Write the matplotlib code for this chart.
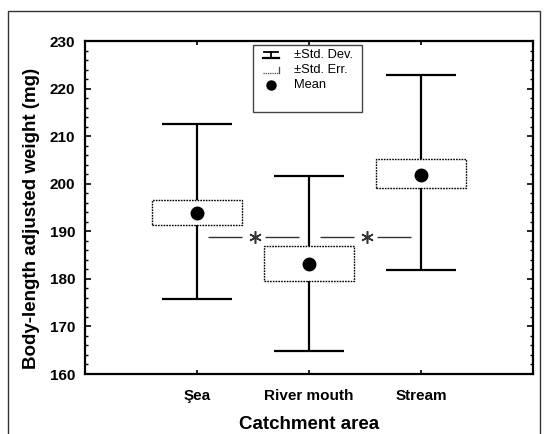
import matplotlib
matplotlib.use("Agg")
import matplotlib.pyplot as plt
from matplotlib.patches import Rectangle
from matplotlib.lines import Line2D
from matplotlib.ticker import MultipleLocator
import numpy as np

plt.rcParams['font.family'] = ['Liberation Sans', 'DejaVu Sans']

categories = ["Şea", "River mouth", "Stream"]
means = [193.8, 183.1, 201.8]
se_low = [191.3, 179.6, 199.0]
se_high = [196.6, 186.9, 205.1]
sd_low = [175.7, 164.9, 181.9]
sd_high = [212.5, 201.6, 222.9]

# significance markers between neighbouring groups
sig_y = 188.7
sig_pairs = [(1, 2), (2, 3)]

fig = plt.figure(figsize=(5.45, 4.34), dpi=100)
ax = fig.add_axes([85 / 545, 1 - 374 / 434, 448 / 545, 333 / 434])

x = np.arange(1, len(categories) + 1)
means = np.array(means); se_low = np.array(se_low); se_high = np.array(se_high)
sd_low = np.array(sd_low); sd_high = np.array(sd_high)

# SE boxes
ax.bar(x, se_high - se_low, bottom=se_low, width=0.8, fill=False,
       edgecolor='black', linewidth=1.0, linestyle=(0, (1.2, 0.8)), zorder=2)
# SD whiskers
ax.vlines(x, se_high, sd_high, color='black', linewidth=1.6, zorder=2)
ax.vlines(x, sd_low, se_low, color='black', linewidth=1.6, zorder=2)
ax.hlines(sd_high, x - 0.31, x + 0.31, color='black', linewidth=1.6, zorder=2)
ax.hlines(sd_low, x - 0.31, x + 0.31, color='black', linewidth=1.6, zorder=2)
# means
ax.plot(x, means, 'o', color='black', markersize=9, zorder=3)

# significance lines with asterisks
for a, b in sig_pairs:
    ax.hlines([sig_y, sig_y], [a + 0.10, a + 0.61], [a + 0.40, a + 0.91],
              color='#333333', linewidth=1.0)
    ax.plot([a + 0.515], [sig_y], marker=(6, 2, 0), color='#333333',
            markersize=9, markeredgewidth=1.1, linestyle='none')

ax.set_xlim(0, 4)
ax.set_ylim(160, 230)
ax.set_xticks(x)
ax.set_xticklabels(categories)
ax.yaxis.set_major_locator(MultipleLocator(10))
ax.yaxis.set_minor_locator(MultipleLocator(2))

ax.tick_params(axis='both', which='both', direction='in', top=True, right=True)
ax.tick_params(axis='x', which='major', length=3, width=1.2, pad=11,
               labelsize=11)
ax.tick_params(axis='y', which='major', length=4, width=1.2, pad=7,
               labelsize=11)
ax.tick_params(axis='y', which='minor', length=2.5, width=1.0)
for lab in ax.get_xticklabels() + ax.get_yticklabels():
    lab.set_fontweight('bold')

for s in ax.spines.values():
    s.set_linewidth(1.6)

ax.set_xlabel("Catchment area", fontsize=13.5, fontweight='bold')
ax.set_ylabel("Body-length adjusted weight (mg)", fontsize=13.5,
              fontweight='bold')
ax.xaxis.set_label_coords(0.5, -0.127)
ax.yaxis.set_label_coords(-0.10, 0.468)

# legend (drawn in axes coordinates)
tr = ax.transAxes
ax.add_patch(Rectangle((0.375, 0.787), 0.243, 0.201, transform=tr,
                       fill=True, facecolor='white', edgecolor='#444444',
                       linewidth=1.0, zorder=5))
rows = [0.958, 0.913, 0.868]
ix0, ix1 = 0.397, 0.432
h = 0.010
# SD icon
ax.add_line(Line2D([ix0 + 0.002, ix1 - 0.002], [rows[0] + h] * 2,
                   transform=tr, color='black', lw=1.3, zorder=6))
ax.add_line(Line2D([ix0, ix1], [rows[0] - h] * 2,
                   transform=tr, color='black', lw=1.6, zorder=6))
ax.add_line(Line2D([(ix0 + ix1) / 2] * 2, [rows[0] - h, rows[0] + h],
                   transform=tr, color='black', lw=1.3, zorder=6))
# SE icon
ax.add_line(Line2D([ix0, ix1], [rows[1] - h] * 2,
                   transform=tr, color='#444444', lw=0.9,
                   linestyle=(0, (1, 0.8)), zorder=6))
ax.add_line(Line2D([ix1, ix1], [rows[1] - h, rows[1] + h],
                   transform=tr, color='#444444', lw=0.9, zorder=6))
# Mean icon
ax.add_line(Line2D([(ix0 + ix1) / 2], [rows[2]], transform=tr, marker='o',
                   color='black', markersize=6.5, zorder=6))
for r, t in zip(rows, ["±Std. Dev.", "±Std. Err.", "Mean"]):
    ax.text(0.4665, r, t, transform=tr, fontsize=9.3, va='center',
            ha='left', zorder=6)

# outer frame
fig.add_artist(Rectangle((8 / 545, -0.01), (540 - 8) / 545, 1 - 11 / 434 + 0.01,
                         transform=fig.transFigure, fill=False,
                         edgecolor='#333333', linewidth=1.0))

fig.savefig("out.png", dpi=100)
